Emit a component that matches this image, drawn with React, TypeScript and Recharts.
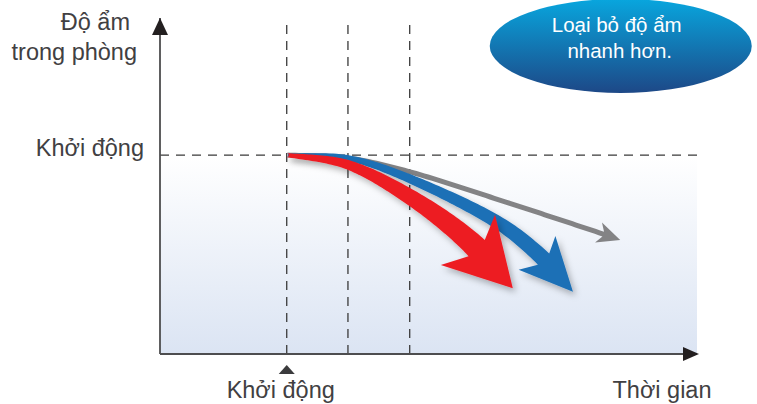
import React from "react";
import {
  ComposedChart,
  Line,
  XAxis,
  YAxis,
  ReferenceLine,
  ReferenceArea,
  ReferenceDot,
} from "recharts";

// values (time 0..100 along x, humidity 0..100 along y)
const startTime = 23.6;
const startHumidity = 59.2;
const guideTimes = [23.6, 35, 46.5];

const grayTrend = [
  { t: 23.6, h: 59.2 },
  { t: 35.0, h: 58.3 },
  { t: 46.6, h: 54.2 },
  { t: 63.3, h: 45.8 },
  { t: 81.4, h: 36.3 },
  { t: 85.7, h: 33.9 },
];
const blueTrend = [
  { t: 23.6, h: 59.2 },
  { t: 35.0, h: 58.3 },
  { t: 46.6, h: 52.1 },
  { t: 61.5, h: 40.5 },
  { t: 70.2, h: 30.1 },
  { t: 76.9, h: 18.5 },
];
const redTrend = [
  { t: 23.6, h: 59.2 },
  { t: 35.0, h: 56.3 },
  { t: 46.6, h: 46.7 },
  { t: 57.4, h: 33.9 },
  { t: 65.7, h: 19.6 },
];

const yTitle = ["Độ ẩm", "trong phòng"];
const startLabel = "Khởi động";
const xTitle = "Thời gian";
const calloutAt = { t: 85.8, h: 91.7 };
const calloutLines = ["Loại bỏ độ ẩm", "nhanh hơn."];

const FONT = "'Liberation Sans', Arial, sans-serif";
const TEXT = "#414042";
const DASH = "#3a3a3a";
const LABEL_SIZE = 23.5;

type Pt = { x: number; y: number };
type ArrowStyle = {
  fill: string;
  w0: number;
  w1: number;
  headLen: number;
  headHalf: number;
  notch: number;
  shadow: boolean;
};

const grayStyle: ArrowStyle = { fill: "#838385", w0: 5, w1: 5, headLen: 23, headHalf: 10.5, notch: 5, shadow: false };
const blueStyle: ArrowStyle = { fill: "#1c6fb6", w0: 3, w1: 16, headLen: 53, headHalf: 25, notch: 9, shadow: true };
const redStyle: ArrowStyle = { fill: "#ed1c24", w0: 4, w1: 23, headLen: 66, headHalf: 37, notch: 12, shadow: true };

// catmull-rom through the scaled points
function spline(pts: Pt[]): Pt[] {
  const out: Pt[] = [];
  const steps = 24;
  for (let i = 0; i < pts.length - 1; i++) {
    const p0 = pts[i - 1] || pts[i];
    const p1 = pts[i];
    const p2 = pts[i + 1];
    const p3 = pts[i + 2] || pts[i + 1];
    for (let k = 0; k < steps; k++) {
      const t = k / steps;
      const t2 = t * t;
      const t3 = t2 * t;
      const f = (a: number, b: number, c: number, d: number) =>
        0.5 * (2 * b + (-a + c) * t + (2 * a - 5 * b + 4 * c - d) * t2 + (-a + 3 * b - 3 * c + d) * t3);
      out.push({ x: f(p0.x, p1.x, p2.x, p3.x), y: f(p0.y, p1.y, p2.y, p3.y) });
    }
  }
  out.push(pts[pts.length - 1]);
  return out;
}

function arrowPath(pts: Pt[], st: ArrowStyle): string {
  const s = spline(pts);
  const L = [0];
  for (let i = 1; i < s.length; i++) L.push(L[i - 1] + Math.hypot(s[i].x - s[i - 1].x, s[i].y - s[i - 1].y));
  const total = L[L.length - 1];
  const at = (d: number): Pt => {
    if (d <= 0) return s[0];
    for (let i = 1; i < s.length; i++) {
      if (L[i] >= d) {
        const r = (d - L[i - 1]) / (L[i] - L[i - 1] || 1);
        return { x: s[i - 1].x + (s[i].x - s[i - 1].x) * r, y: s[i - 1].y + (s[i].y - s[i - 1].y) * r };
      }
    }
    return s[s.length - 1];
  };
  const tip = s[s.length - 1];
  const base = at(total - st.headLen);
  let dx = tip.x - base.x;
  let dy = tip.y - base.y;
  const dl = Math.hypot(dx, dy) || 1;
  dx /= dl;
  dy /= dl;
  const wingA = { x: base.x - dy * st.headHalf, y: base.y + dx * st.headHalf };
  const wingB = { x: base.x + dy * st.headHalf, y: base.y - dx * st.headHalf };
  const endS = total - st.headLen + st.notch;
  const left: Pt[] = [];
  const right: Pt[] = [];
  const N = 80;
  for (let k = 0; k <= N; k++) {
    const d = (endS * k) / N;
    const p = at(d);
    const a = at(Math.max(d - 1, 0));
    const b = at(Math.min(d + 1, total));
    let tx = b.x - a.x;
    let ty = b.y - a.y;
    const tl = Math.hypot(tx, ty) || 1;
    tx /= tl;
    ty /= tl;
    const w = (st.w0 + ((st.w1 - st.w0) * k) / N) / 2;
    left.push({ x: p.x - ty * w, y: p.y + tx * w });
    right.push({ x: p.x + ty * w, y: p.y - tx * w });
  }
  const r0 = st.w0 / 2;
  const f = (p: Pt) => `${p.x.toFixed(2)},${p.y.toFixed(2)}`;
  let d = `M${f(left[0])}`;
  left.forEach((p) => (d += ` L${f(p)}`));
  d += ` L${f(wingA)} L${f(tip)} L${f(wingB)}`;
  for (let i = right.length - 1; i >= 0; i--) d += ` L${f(right[i])}`;
  d += ` A${r0},${r0} 0 0 1 ${f(left[0])} Z`;
  return d;
}

const makeArrow = (st: ArrowStyle, n: number, id: string) => {
  const seen: Pt[] = [];
  return (props: any) => {
    const { cx, cy, index } = props;
    seen[index] = { x: cx, y: cy };
    if (index !== n - 1) return <g key={`${id}-${index}`} />;
    const pts: Pt[] =
      props.points && props.points.length === n
        ? props.points.map((p: any) => ({ x: p.x, y: p.y }))
        : seen.slice(0, n);
    return (
      <path
        key={`${id}-${index}`}
        d={arrowPath(pts, st)}
        fill={st.fill}
        stroke="none"
        filter={st.shadow ? "url(#arrowShadow)" : undefined}
      />
    );
  };
};

const YHead = (props: any) => {
  const { cx, cy } = props;
  return (
    <g>
      <polygon points={`${cx},${cy} ${cx - 8},${cy + 17} ${cx + 8},${cy + 17}`} fill="#231f20" />
      <text x={cx - 30} y={cy + 12} textAnchor="end" fontSize={LABEL_SIZE} fill={TEXT} fontFamily={FONT}>
        {yTitle[0]}
      </text>
      <text x={cx - 23} y={cy + 42} textAnchor="end" fontSize={LABEL_SIZE} fill={TEXT} fontFamily={FONT}>
        {yTitle[1]}
      </text>
    </g>
  );
};

const XHead = (props: any) => {
  const { cx, cy } = props;
  return (
    <g>
      <polygon points={`${cx - 14},${cy - 7} ${cx + 2},${cy} ${cx - 14},${cy + 7}`} fill="#231f20" />
      <text x={cx - 35} y={cy + 44} textAnchor="middle" fontSize={LABEL_SIZE} fill={TEXT} fontFamily={FONT}>
        {xTitle}
      </text>
    </g>
  );
};

const StartX = (props: any) => {
  const { cx, cy } = props;
  return (
    <g>
      <polygon points={`${cx - 8},${cy + 20} ${cx + 8},${cy + 20} ${cx},${cy + 11}`} fill="#3b3b3d" />
      <text x={cx - 6} y={cy + 44} textAnchor="middle" fontSize={LABEL_SIZE} fill={TEXT} fontFamily={FONT}>
        {startLabel}
      </text>
    </g>
  );
};

const StartY = (props: any) => {
  const { cx, cy } = props;
  return (
    <text x={cx - 16} y={cy + 1} textAnchor="end" fontSize={LABEL_SIZE} fill={TEXT} fontFamily={FONT}>
      {startLabel}
    </text>
  );
};

const Callout = (props: any) => {
  const { cx, cy } = props;
  return (
    <g>
      <ellipse cx={cx} cy={cy} rx={131} ry={47} fill="url(#calloutGrad)" />
      <text x={cx - 4} y={cy - 14} textAnchor="middle" fontSize={20.5} fill="#ffffff" fontFamily={FONT}>
        {calloutLines[0]}
      </text>
      <text x={cx - 1} y={cy + 12} textAnchor="middle" fontSize={20.5} fill="#ffffff" fontFamily={FONT}>
        {calloutLines[1]}
      </text>
    </g>
  );
};

export default function App() {
  return (
    <div style={{ position: "absolute", left: 0, top: 0, width: 757, height: 404, background: "#fff" }}>
      <ComposedChart width={757} height={404} margin={{ top: 18, right: 60, bottom: 0, left: 0 }}>
        <defs>
          <linearGradient id="bgGrad" x1="0" y1="0" x2="0" y2="1">
            <stop offset="0%" stopColor="#ffffff" />
            <stop offset="100%" stopColor="#dbe4f3" />
          </linearGradient>
          <linearGradient id="calloutGrad" x1="0" y1="0" x2="0" y2="1">
            <stop offset="0%" stopColor="#08a6de" />
            <stop offset="100%" stopColor="#1d4887" />
          </linearGradient>
          <filter id="arrowShadow" x="-30%" y="-30%" width="160%" height="160%">
            <feDropShadow dx="3" dy="4" stdDeviation="3" floodColor="#000" floodOpacity="0.28" />
          </filter>
        </defs>
        <XAxis
          type="number"
          dataKey="t"
          domain={[0, 100]}
          height={50}
          tick={false}
          tickLine={false}
          axisLine={{ stroke: "#4d4d4f", strokeWidth: 1.8 }}
          allowDataOverflow
        />
        <YAxis
          type="number"
          dataKey="h"
          domain={[0, 100]}
          width={160}
          tick={false}
          tickLine={false}
          axisLine={{ stroke: "#4d4d4f", strokeWidth: 1.8 }}
          allowDataOverflow
        />
        <ReferenceArea x1={0} x2={100} y1={0} y2={startHumidity} fill="url(#bgGrad)" fillOpacity={1} stroke="none" />
        <ReferenceLine y={startHumidity} stroke={DASH} strokeWidth={1.3} strokeDasharray="9 7" />
        {guideTimes.map((g) => (
          <ReferenceLine key={g} x={g} stroke={DASH} strokeWidth={1.3} strokeDasharray="9 7" />
        ))}
        <Line
          data={grayTrend}
          dataKey="h"
          stroke="none"
          dot={makeArrow(grayStyle, grayTrend.length, "g")}
          activeDot={false}
          isAnimationActive={false}
        />
        <Line
          data={blueTrend}
          dataKey="h"
          stroke="none"
          dot={makeArrow(blueStyle, blueTrend.length, "b")}
          activeDot={false}
          isAnimationActive={false}
        />
        <Line
          data={redTrend}
          dataKey="h"
          stroke="none"
          dot={makeArrow(redStyle, redTrend.length, "r")}
          activeDot={false}
          isAnimationActive={false}
        />
        <ReferenceDot x={0} y={100} r={0} shape={YHead} />
        <ReferenceDot x={100} y={0} r={0} shape={XHead} />
        <ReferenceDot x={startTime} y={0} r={0} shape={StartX} />
        <ReferenceDot x={0} y={startHumidity} r={0} shape={StartY} />
        <ReferenceDot x={calloutAt.t} y={calloutAt.h} r={0} shape={Callout} />
      </ComposedChart>
    </div>
  );
}
